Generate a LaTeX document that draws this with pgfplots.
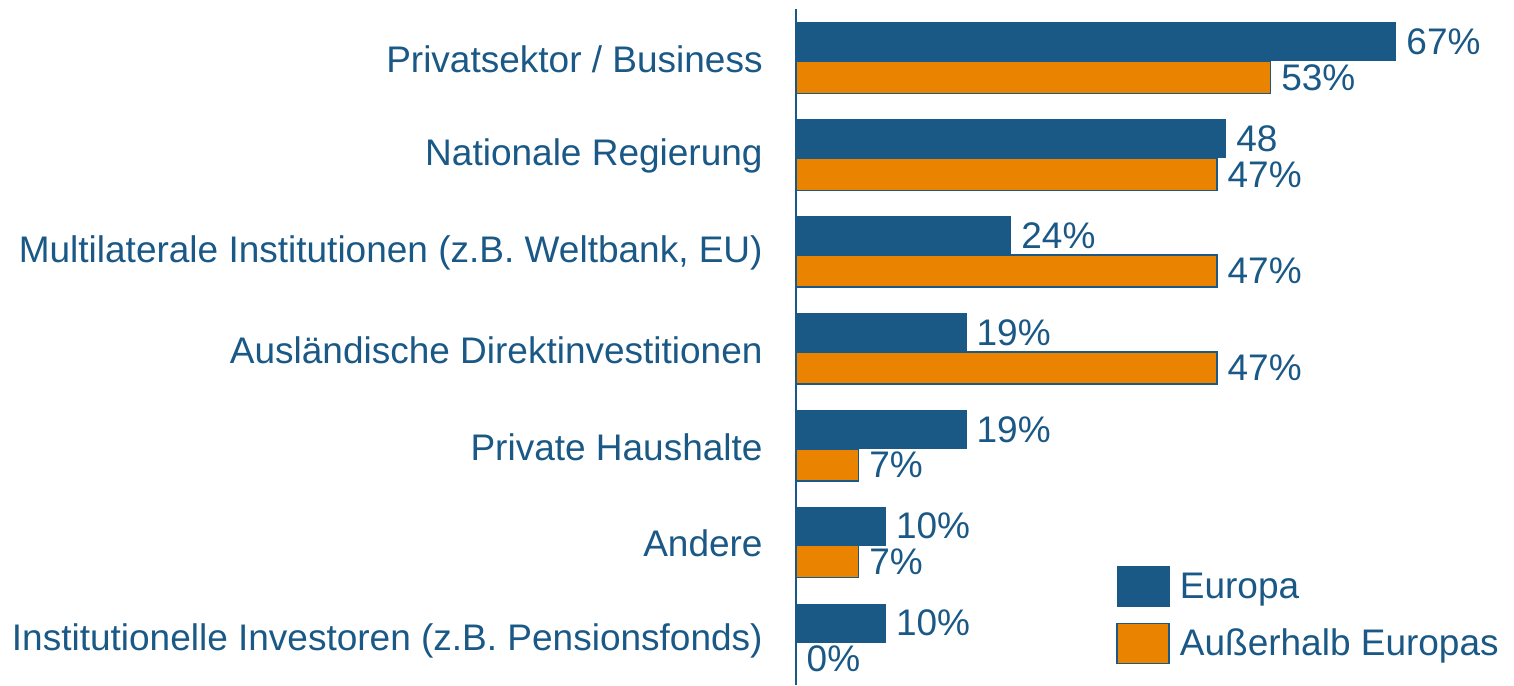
\documentclass[border=0pt]{standalone}
\usepackage{fontspec}
\setmainfont{Liberation Sans}
\usepackage{pgfplots}
\pgfplotsset{compat=1.18}
\definecolor{cblue}{HTML}{1A5886}
\definecolor{corange}{HTML}{E98300}
\pgfplotsset{boxlegend/.style={legend image code/.code={\draw[##1] (0pt,-10pt) rectangle (26pt,10pt);}}}
\newcommand{\lblfont}{\fontsize{18.5}{22}\selectfont}
\begin{document}
\begin{tikzpicture}
\useasboundingbox (-398pt,0pt) rectangle (359pt,342.5pt);
\begin{axis}[
  scale only axis,
  width=359pt, height=338pt,
  xmin=0, xmax=80.18,
  ymin=-0.444, ymax=6.537,
  xbar, clip=false,
  axis x line=none,
  axis y line*=left,
  y axis line style={draw=cblue, line width=1pt, -},
  ytick={0,1,2,3,4,5,6},
  yticklabels={{Institutionelle Investoren (z.B. Pensionsfonds)},{Andere},{Private Haushalte},{Ausländische Direktinvestitionen},{Multilaterale Institutionen (z.B. Weltbank, EU)},{Nationale Regierung},{Privatsektor / Business}},
  major tick length=0pt,
  yticklabel style={font=\lblfont, text=cblue, inner sep=0pt, xshift=-16.5pt, yshift=0.75pt},
  point meta=explicit symbolic,
  nodes near coords,
  every node near coord/.append style={font=\lblfont, text=cblue, inner sep=0pt, xshift=5pt, anchor=west},
  legend style={at={(rel axis cs:0.4457,0.176)}, anchor=north west, draw=none, fill=none, inner sep=0pt,
    row sep=7.75pt, font=\lblfont, text=cblue,
    /tikz/every odd column/.append style={column sep=3pt}},
  legend cell align=left,
]
\addplot[fill=cblue, draw=cblue, line width=0.5pt, bar width=19pt, bar shift=9.5pt, boxlegend]
  coordinates {(67,6)[67\%] (48,5)[48] (24,4)[24\%] (19,3)[19\%] (19,2)[19\%] (10,1)[10\%] (10,0)[10\%]};
\addlegendentry{Europa}
\addplot[fill=corange, draw=cblue, line width=0.75pt, bar width=16pt, bar shift=-8.25pt, boxlegend]
  coordinates {(53,6)[53\%] (47,5)[47\%] (47,4)[47\%] (47,3)[47\%] (7,2)[7\%] (7,1)[7\%] (0,0)[0\%]};
\addlegendentry{Außerhalb Europas}
\end{axis}
\end{tikzpicture}
\end{document}
